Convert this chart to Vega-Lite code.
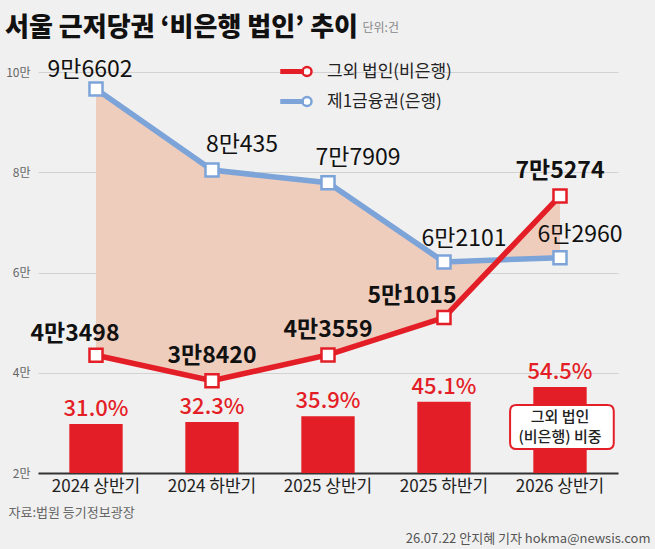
{
  "$schema": "https://vega.github.io/schema/vega-lite/v6.json",
  "width": 580,
  "height": 401,
  "autosize": {"type": "none"},
  "padding": {"left": 38, "top": 72, "right": 37, "bottom": 76},
  "background": "#f0f0f0",
  "config": {"view": {"stroke": null}},
  "title": {
    "text": "서울 근저당권 ‘비은행 법인’ 추이",
    "anchor": "start",
    "frame": "group",
    "dx": -33,
    "dy": 36,
    "font": "Noto Sans CJK KR",
    "fontSize": 26,
    "fontWeight": 900,
    "color": "#111111",
    "offset": 16
  },
  "data": {
    "values": [
      {"period": "2024 상반기", "bank": 96602, "nonbank": 43498, "share": 31.0},
      {"period": "2024 하반기", "bank": 80435, "nonbank": 38420, "share": 32.3},
      {"period": "2025 상반기", "bank": 77909, "nonbank": 43559, "share": 35.9},
      {"period": "2025 하반기", "bank": 62101, "nonbank": 51015, "share": 45.1},
      {"period": "2026 상반기", "bank": 62960, "nonbank": 75274, "share": 54.5}
    ]
  },
  "resolve": {"scale": {"y": "independent"}},
  "layer": [
    {
      "layer": [
        {
          "mark": {"type": "area", "color": "#eecdbd", "opacity": 1},
          "encoding": {
            "x": {
              "field": "period", "type": "nominal", "sort": null,
              "scale": {"type": "band", "paddingInner": 0, "paddingOuter": 0},
              "axis": {
                "labelAngle": 0, "labelFontSize": 17, "labelColor": "#222222",
                "labelFont": "Noto Sans CJK KR",
                "labelPadding": 5, "ticks": false, "grid": false,
                "domainColor": "#333333", "domainWidth": 2,
                "title": "자료:법원 등기정보광장",
                "titleX": -30, "titleY": 39, "titleAlign": "left", "titleBaseline": "middle",
                "titleFontSize": 13, "titleFontWeight": "normal", "titleColor": "#666666",
                "titleFont": "Noto Sans CJK KR"
              }
            },
            "y": {
              "field": "nonbank", "type": "quantitative",
              "scale": {"domain": [20000, 100000], "nice": false, "zero": false},
              "axis": {
                "values": [20000, 40000, 60000, 80000, 100000],
                "labelExpr": "datum.value / 10000 + '만'",
                "ticks": false, "domain": false, "labelPadding": 8,
                "labelFontSize": 12, "labelColor": "#666666",
                "labelFont": "Noto Sans CJK KR",
                "gridColor": "#d2d2d2", "gridWidth": 1,
                "title": "단위:건", "titleAngle": 0, "titleX": 324, "titleY": -45,
                "titleAlign": "left", "titleBaseline": "middle", "titleFontSize": 12,
                "titleFontWeight": "normal", "titleColor": "#888888",
                "titleFont": "Noto Sans CJK KR"
              }
            },
            "y2": {"field": "bank"}
          }
        },
        {
          "transform": [{"fold": ["bank", "nonbank"], "as": ["series", "value"]}],
          "layer": [
            {
              "mark": {"type": "line", "strokeWidth": 5.5},
              "encoding": {
                "x": {"field": "period", "type": "nominal", "sort": null},
                "y": {"field": "value", "type": "quantitative"},
                "stroke": {
                  "field": "series", "type": "nominal",
                  "scale": {"domain": ["nonbank", "bank"], "range": ["#e41e26", "#7ca4d9"]},
                  "legend": {
                    "title": null, "orient": "none", "legendX": 242, "legendY": -17,
                    "padding": 0,
                    "symbolType": "M-1,-0.08L0.42,-0.08L0.42,0.08L-1,0.08Z M1,0A0.3,0.3,0,1,1,0.4,0A0.3,0.3,0,1,1,1,0Z",
                    "symbolSize": 900, "symbolFillColor": "white", "symbolStrokeWidth": 2.5,
                    "symbolOpacity": 1,
                    "labelFontSize": 17, "labelColor": "#222222",
                    "labelFont": "Noto Sans CJK KR",
                    "labelOffset": 14, "rowPadding": 3,
                    "labelExpr": "datum.label == 'nonbank' ? '그외 법인(비은행)' : '제1금융권(은행)'"
                  }
                }
              }
            },
            {
              "mark": {"type": "point", "shape": "square", "filled": true, "fill": "white", "size": 170, "strokeWidth": 2.5, "opacity": 1},
              "encoding": {
                "x": {"field": "period", "type": "nominal", "sort": null},
                "y": {"field": "value", "type": "quantitative"},
                "stroke": {"field": "series", "type": "nominal"}
              }
            },
            {
              "transform": [
                {"filter": "datum.series == 'bank' && datum.period == '2024 상반기'"},
                {"calculate": "floor(datum.value / 10000) + '만' + (datum.value % 10000)", "as": "label"}
              ],
              "mark": {"type": "text", "baseline": "middle", "dx": -6, "dy": -19, "fontSize": 23, "color": "#111111", "font": "Noto Sans CJK KR"},
              "encoding": {
                "x": {"field": "period", "type": "nominal", "sort": null},
                "y": {"field": "value", "type": "quantitative"},
                "text": {"field": "label"}
              }
            },
            {
              "transform": [
                {"filter": "datum.series == 'bank' && (datum.period == '2024 하반기' || datum.period == '2025 상반기')"},
                {"calculate": "floor(datum.value / 10000) + '만' + (datum.value % 10000)", "as": "label"}
              ],
              "mark": {"type": "text", "baseline": "middle", "dx": 30, "dy": -25, "fontSize": 23, "color": "#111111", "font": "Noto Sans CJK KR"},
              "encoding": {
                "x": {"field": "period", "type": "nominal", "sort": null},
                "y": {"field": "value", "type": "quantitative"},
                "text": {"field": "label"}
              }
            },
            {
              "transform": [
                {"filter": "datum.series == 'bank' && (datum.period == '2025 하반기' || datum.period == '2026 상반기')"},
                {"calculate": "floor(datum.value / 10000) + '만' + (datum.value % 10000)", "as": "label"}
              ],
              "mark": {"type": "text", "baseline": "middle", "dx": 20, "dy": -23, "fontSize": 23, "color": "#111111", "font": "Noto Sans CJK KR"},
              "encoding": {
                "x": {"field": "period", "type": "nominal", "sort": null},
                "y": {"field": "value", "type": "quantitative"},
                "text": {"field": "label"}
              }
            },
            {
              "transform": [
                {"filter": "datum.series == 'nonbank' && datum.period == '2024 상반기'"},
                {"calculate": "floor(datum.value / 10000) + '만' + (datum.value % 10000)", "as": "label"}
              ],
              "mark": {"type": "text", "baseline": "middle", "dx": -21, "dy": -21, "fontSize": 23, "fontWeight": "bold", "color": "#111111", "font": "Noto Sans CJK KR"},
              "encoding": {
                "x": {"field": "period", "type": "nominal", "sort": null},
                "y": {"field": "value", "type": "quantitative"},
                "text": {"field": "label"}
              }
            },
            {
              "transform": [
                {"filter": "datum.series == 'nonbank' && datum.period == '2025 하반기'"},
                {"calculate": "floor(datum.value / 10000) + '만' + (datum.value % 10000)", "as": "label"}
              ],
              "mark": {"type": "text", "baseline": "middle", "dx": -32, "dy": -22, "fontSize": 23, "fontWeight": "bold", "color": "#111111", "font": "Noto Sans CJK KR"},
              "encoding": {
                "x": {"field": "period", "type": "nominal", "sort": null},
                "y": {"field": "value", "type": "quantitative"},
                "text": {"field": "label"}
              }
            },
            {
              "transform": [
                {"filter": "datum.series == 'nonbank' && datum.period != '2024 상반기' && datum.period != '2025 하반기'"},
                {"calculate": "floor(datum.value / 10000) + '만' + (datum.value % 10000)", "as": "label"}
              ],
              "mark": {"type": "text", "baseline": "middle", "dx": 0, "dy": -25, "fontSize": 23, "fontWeight": "bold", "color": "#111111", "font": "Noto Sans CJK KR"},
              "encoding": {
                "x": {"field": "period", "type": "nominal", "sort": null},
                "y": {"field": "value", "type": "quantitative"},
                "text": {"field": "label"}
              }
            }
          ]
        }
      ]
    },
    {
      "layer": [
        {
          "mark": {"type": "bar", "color": "#e41e26", "width": {"band": 0.46}},
          "encoding": {
            "x": {"field": "period", "type": "nominal", "sort": null},
            "y": {
              "field": "share", "type": "quantitative",
              "scale": {"domain": [0, 254], "nice": false},
              "axis": {
                "orient": "right", "labels": false, "ticks": false, "domain": false, "grid": false,
                "title": "26.07.22 안지혜 기자 hokma@newsis.com",
                "titleAngle": 0, "titleX": 32, "titleY": 466, "titleAlign": "right",
                "titleBaseline": "middle", "titleFontSize": 13, "titleFontWeight": "normal",
                "titleColor": "#555555", "titleFont": "Noto Sans CJK KR"
              }
            }
          }
        },
        {
          "transform": [{"calculate": "format(datum.share, '.1f') + '%'", "as": "pct"}],
          "mark": {"type": "text", "baseline": "bottom", "dy": -3, "fontSize": 22, "fontWeight": 500, "color": "#e41e26", "font": "Noto Sans CJK KR"},
          "encoding": {
            "x": {"field": "period", "type": "nominal", "sort": null},
            "y": {"field": "share", "type": "quantitative"},
            "text": {"field": "pct"}
          }
        },
        {
          "transform": [{"filter": "datum.period == '2026 상반기'"}],
          "mark": {
            "type": "point",
            "shape": "M-0.68,0.28L0.74,0.28Q0.84,0.28,0.84,0.38L0.84,0.87Q0.84,0.97,0.74,0.97L-0.68,0.97Q-0.78,0.97,-0.78,0.87L-0.78,0.38Q-0.78,0.28,-0.68,0.28Z",
            "size": 16384, "filled": true, "fill": "white", "stroke": "#e41e26", "strokeWidth": 2, "opacity": 1
          },
          "encoding": {
            "x": {"field": "period", "type": "nominal", "sort": null},
            "y": {"field": "share", "type": "quantitative"}
          }
        },
        {
          "transform": [{"filter": "datum.period == '2026 상반기'"}],
          "mark": {
            "type": "text", "text": ["그외 법인", "(비은행) 비중"], "baseline": "middle",
            "dy": 30, "fontSize": 15, "fontWeight": 500, "lineHeight": 20, "color": "#222222", "font": "Noto Sans CJK KR"
          },
          "encoding": {
            "x": {"field": "period", "type": "nominal", "sort": null},
            "y": {"field": "share", "type": "quantitative"}
          }
        }
      ]
    }
  ]
}
